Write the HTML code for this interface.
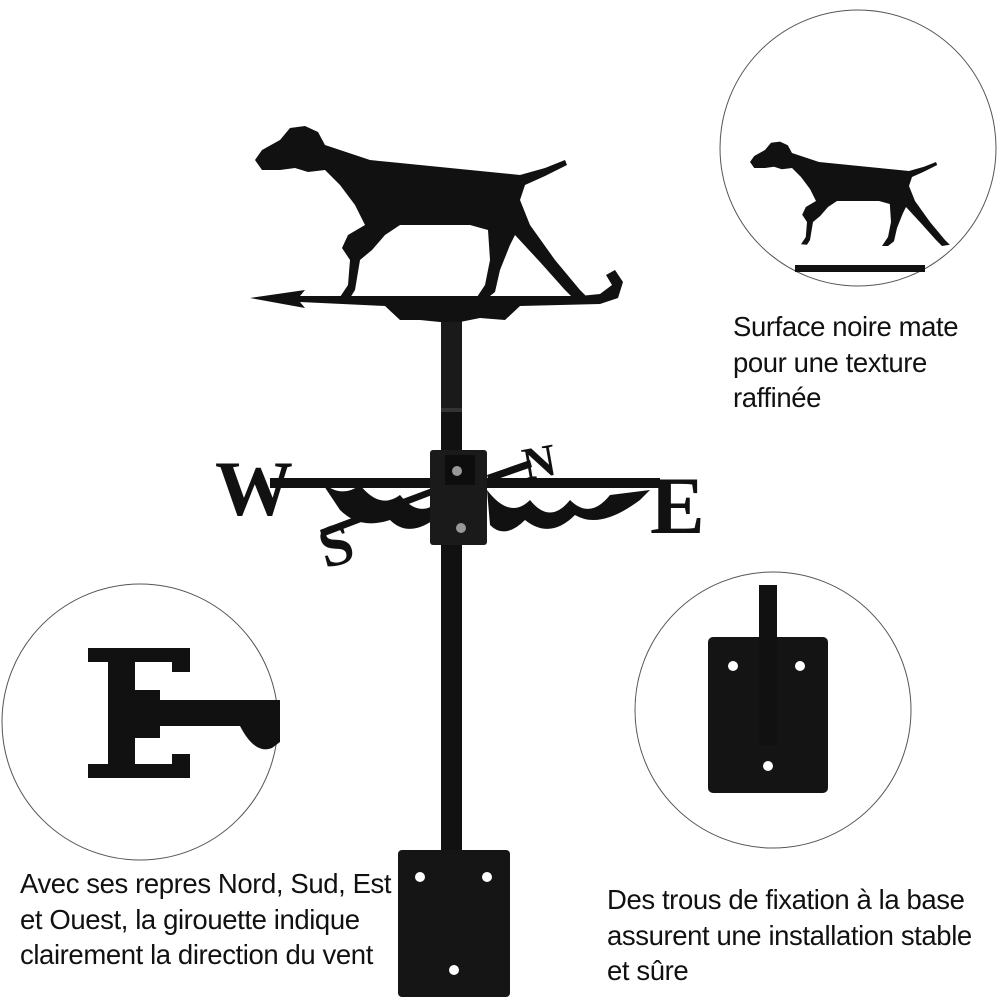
<!DOCTYPE html>
<html><head><meta charset="utf-8"><style>
body{margin:0;background:#fff;}
.w{position:relative;width:1000px;height:1000px;overflow:hidden;font-family:"Liberation Sans",sans-serif;}
.t{position:absolute;font-size:27.5px;line-height:35.5px;color:#111;white-space:nowrap;letter-spacing:-0.4px;}
</style></head><body><div class="w">
<svg width="1000" height="1000" viewBox="0 0 1000 1000" style="position:absolute;left:0;top:0">
<defs>
<g id="dog">
<path d="M255,160 L262,150 L280,140 L290,128 L305,126 L318,132 L325,145 L340,150 L370,160 L420,165 L470,170 L520,175 L545,168 L565,160 L567,165 L545,176 L525,185 L520,200 L530,225 L555,260 L580,290 L588,298 L575,300 L565,290 L540,262 L515,235 L510,245 L500,270 L495,292 L485,300 L475,300 L485,285 L490,260 L488,230 L470,225 L430,225 L400,225 L385,235 L372,250 L360,260 L355,290 L350,298 L340,297 L348,285 L350,260 L342,248 L348,235 L365,225 L355,205 L340,185 L325,170 L308,172 L295,168 L280,170 L262,170 Z"/>
</g>
</defs>
<circle cx="858" cy="148" r="138" fill="#fff" stroke="#555" stroke-width="1"/>
<circle cx="140" cy="722" r="138" fill="#fff" stroke="#555" stroke-width="1"/>
<circle cx="773" cy="710" r="138" fill="#fff" stroke="#555" stroke-width="1"/>
<rect x="441" y="318" width="21" height="535" fill="#111"/>
<rect x="441" y="318" width="21" height="92" fill="#1a1a1a"/>
<rect x="441" y="408" width="21" height="4" fill="#333"/>
<rect x="398" y="850" width="112" height="147" rx="4" fill="#151515"/>
<circle cx="420" cy="877" r="5" fill="#fff"/><circle cx="487" cy="877" r="5" fill="#fff"/><circle cx="454" cy="970" r="5" fill="#fff"/>
<path d="M250,298 L305,290 L300,296 L580,296 L600,294 L612,285 L606,275 L615,270 L623,282 L618,298 L600,304 L520,306 L505,320 L480,318 L460,322 L440,322 L420,320 L400,320 L385,306 L300,302 L305,308 Z" fill="#111"/>
<use href="#dog" fill="#111"/>
<rect x="270" y="478" width="390" height="10" fill="#111"/>
<path d="M320,480 Q340,500 360,485 Q380,510 400,495 Q420,520 440,500 L440,515 Q410,540 390,520 Q360,530 340,510 Z" fill="#111"/>
<path d="M487,490 Q510,520 530,500 Q550,525 570,500 Q590,520 610,495 L650,490 L640,500 Q600,530 575,515 Q550,540 525,520 Q505,540 490,525 Z" fill="#111"/>
<path d="M320,530 L440,485 L440,492 L322,537 Z" fill="#111"/>
<path d="M487,475 L530,460 L532,467 L489,482 Z" fill="#111"/>
<text x="215" y="515" font-family="Liberation Serif" font-weight="bold" font-size="78" fill="#111">W</text>
<text x="650" y="533" font-family="Liberation Serif" font-weight="bold" font-size="82" fill="#111">E</text>
<text x="318" y="565" font-family="Liberation Serif" font-weight="bold" font-size="60" fill="#111" transform="rotate(-15 335 540)">S</text>
<text x="522" y="478" font-family="Liberation Serif" font-weight="bold" font-size="46" fill="#111" transform="rotate(-10 535 460)">N</text>
<rect x="430" y="450" width="57" height="95" rx="3" fill="#1a1a1a"/>
<rect x="445" y="455" width="30" height="30" fill="#0d0d0d"/>
<circle cx="457" cy="471" r="5" fill="#999"/><circle cx="461" cy="528" r="5" fill="#999"/>
<g transform="translate(858 210) scale(0.6) translate(-435 -240)"><use href="#dog" fill="#111"/></g>
<rect x="795" y="265" width="130" height="7" fill="#111"/>
<path d="M88,648 L190,648 L190,672 L172,672 L172,662 L135,662 L135,690 L160,690 L160,738 L135,738 L135,764 L172,764 L172,754 L190,754 L190,778 L88,778 L88,764 L108,764 L108,662 L88,662 Z" fill="#111"/>
<rect x="160" y="700" width="120" height="26" fill="#111"/>
<path d="M240,726 Q255,755 272,748 L280,742 L280,726 Z" fill="#111"/>
<rect x="708" y="637" width="120" height="156" rx="5" fill="#141414"/>
<rect x="759" y="585" width="18" height="160" fill="#111"/>
<circle cx="733" cy="666" r="5" fill="#fff"/><circle cx="800" cy="666" r="5" fill="#fff"/><circle cx="768" cy="766" r="5" fill="#fff"/>
</svg>
<div class="t" style="left:733px;top:309px">Surface noire mate<br>pour une texture<br>raffinée</div>
<div class="t" style="left:20px;top:866px">Avec ses repres Nord, Sud, Est<br>et Ouest, la girouette indique<br>clairement la direction du vent</div>
<div class="t" style="left:607px;top:882px">Des trous de fixation à la base<br>assurent une installation stable<br>et sûre</div>
</div></body></html>
